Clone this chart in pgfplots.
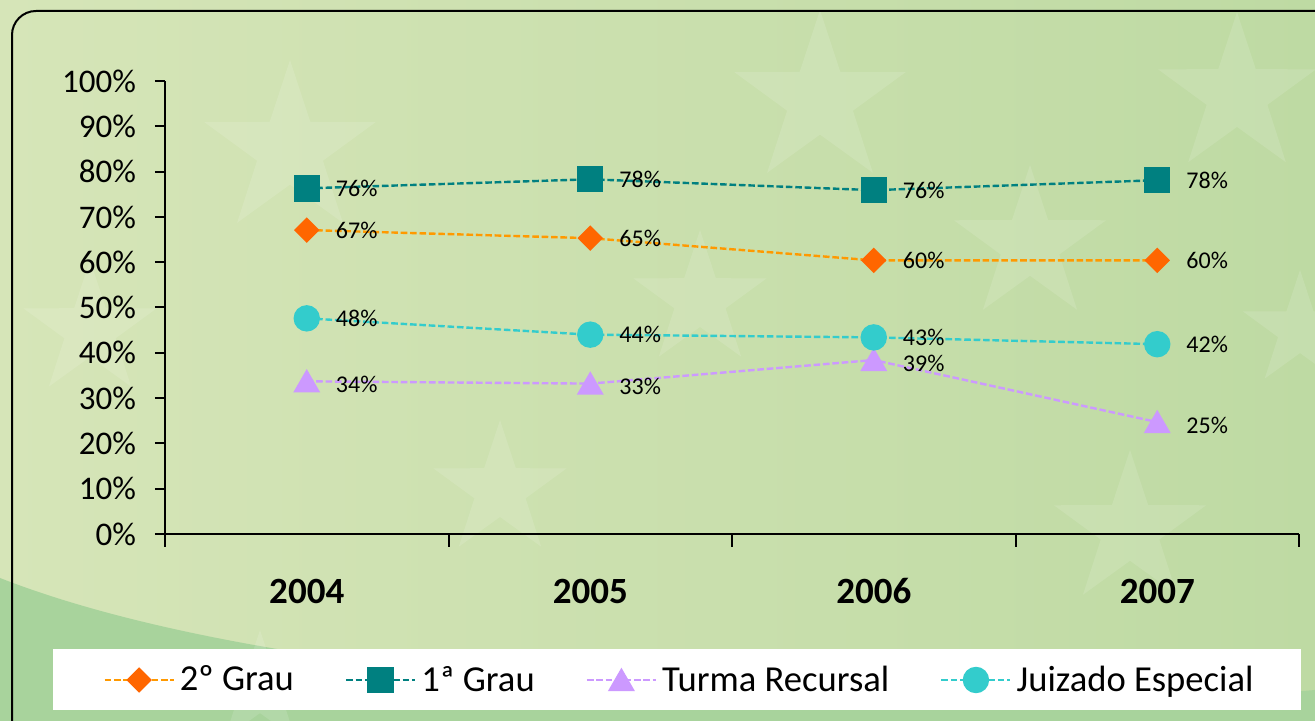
\documentclass[border=0pt]{standalone}
\usepackage{pgfplots}
\pgfplotsset{compat=1.18}
\usepackage{pgfplotstable}
\usepackage{fontspec}
\setmainfont{Carlito}
\usetikzlibrary{shapes.geometric}

\definecolor{bgA}{RGB}{214,229,184}
\definecolor{bgB}{RGB}{208,224,190}
\definecolor{bgC}{RGB}{190,218,163}
\definecolor{bgGreen}{RGB}{168,211,156}
\definecolor{cOrangeL}{RGB}{255,153,0}
\definecolor{cOrangeM}{RGB}{255,102,0}
\definecolor{cTeal}{RGB}{0,128,128}
\definecolor{cLav}{RGB}{204,153,255}
\definecolor{cCyan}{RGB}{51,204,204}

% px -> pt : x*0.5, y = (721-py)*0.5
\newcommand{\PX}[2]{({#1*0.5pt},{(721-#2)*0.5pt})}

\pgfplotstableread{
x y lab
0 67.1 67
1 65.3 65
2 60.4 60
3 60.4 60
}\tabSeg
\pgfplotstableread{
x y lab
0 76.3 76
1 78.3 78
2 75.9 76
3 78.1 78
}\tabPri
\pgfplotstableread{
x y lab
0 33.7 34
1 33.2 33
2 38.4 39
3 24.7 25
}\tabTur
\pgfplotstableread{
x y lab
0 47.6 48
1 44.0 44
2 43.4 43
3 41.9 42
}\tabJui

\begin{document}
\begin{tikzpicture}
\useasboundingbox (0,0) rectangle (657.5pt,360.5pt);
% background
\shade[left color=bgA, middle color=bgB, right color=bgC] (0,0) rectangle (657.5pt,360.5pt);
\fill[bgGreen] \PX{0}{578} .. controls \PX{120}{625} and \PX{350}{680} .. \PX{800}{698}
  .. controls \PX{1000}{705} and \PX{1200}{700} .. \PX{1315}{690} -- \PX{1315}{721} -- \PX{0}{721} -- cycle;
% faint stars
\foreach \sx/\sy/\sr in {290/150/90, 820/100/90, 1237/95/83, 1030/245/80, 700/300/70, 500/490/70, 1130/530/80, 90/330/70, 260/690/60, 1300/330/60}{
  \node[star, star points=5, star point ratio=2.6, minimum size=\sr pt, inner sep=0pt, fill=white, opacity=0.12, draw=none] at \PX{\sx}{\sy} {};
}
% border
\draw[line width=1pt, rounded corners=12pt] \PX{12}{740} -- \PX{12}{11} -- \PX{1340}{11};
% legend box
\fill[white] \PX{53}{649} rectangle \PX{1301}{710};

\begin{axis}[
  at={(82.5pt,93.5pt)}, anchor=south west,
  scale only axis, width=567pt, height=226.5pt,
  xmin=-0.5, xmax=3.5, ymin=0, ymax=100,
  axis lines*=left,
  axis line style={line width=1pt, black},
  tick align=outside,
  major tick length=5pt,
  every tick/.style={line width=1pt, black},
  xtick={0,1,2,3},
  xticklabels={2004,2005,2006,2007},
  xtick style={draw=none},
  xticklabel style={font=\fontsize{18.5}{22}\selectfont\bfseries, text height=12pt, text depth=0pt, yshift=-14pt},
  extra x ticks={-0.5,0.5,1.5,2.5,3.5},
  extra x tick labels={},
  extra x tick style={major tick length=6.5pt, xtick style={draw=black}},
  ytick={0,10,...,100},
  yticklabels={0\%,10\%,20\%,30\%,40\%,50\%,60\%,70\%,80\%,90\%,100\%},
  yticklabel style={font=\fontsize{16.5}{19}\selectfont, xshift=-6pt},
  clip=false,
  legend columns=4,
  legend style={at={(axis description cs:-0.0547,-0.3223)}, anchor=west,
    draw=none, fill=none, inner sep=0pt,
    font=\fontsize{18.3}{22}\selectfont,
    nodes={inner sep=0pt},
    /tikz/every odd column/.append style={column sep=2.5pt},
    /tikz/every even column/.append style={column sep=25.5pt}},
  legend image code/.code={\draw[#1, mark repeat=2, mark phase=2] plot coordinates {(0pt,0pt) (17.25pt,0pt) (34.5pt,0pt)};},
  nodes near coords={\pgfplotspointmeta\%},
  point meta=explicit symbolic,
  every node near coord/.append style={anchor=west, inner sep=0pt, xshift=14pt, font=\fontsize{12}{14}\selectfont, text=black},
  every axis plot/.append style={line width=1.2pt, dash pattern=on 3.3pt off 1.4pt},
]
\addplot[color=cOrangeL, mark=square*, mark size=3.9pt, mark options={solid, rotate=45, fill=cOrangeM, draw=cOrangeM}]
  table[x=x, y=y, meta=lab] {\tabSeg};
\addlegendentry{2º Grau}
\addplot[color=cTeal, mark=square*, mark size=6pt, mark options={solid, fill=cTeal, draw=cTeal}]
  table[x=x, y=y, meta=lab] {\tabPri};
\addlegendentry{1ª Grau}
\addplot[color=cLav, mark=triangle*, mark size=6.6pt, mark options={solid, fill=cLav, draw=cLav, yshift=-1.65pt}]
  table[x=x, y=y, meta=lab] {\tabTur};
\addlegendentry{Turma Recursal}
\addplot[color=cCyan, mark=*, mark size=6pt, mark options={solid, fill=cCyan, draw=cCyan}]
  table[x=x, y=y, meta=lab] {\tabJui};
\addlegendentry{Juizado Especial}
\end{axis}
\end{tikzpicture}
\end{document}
